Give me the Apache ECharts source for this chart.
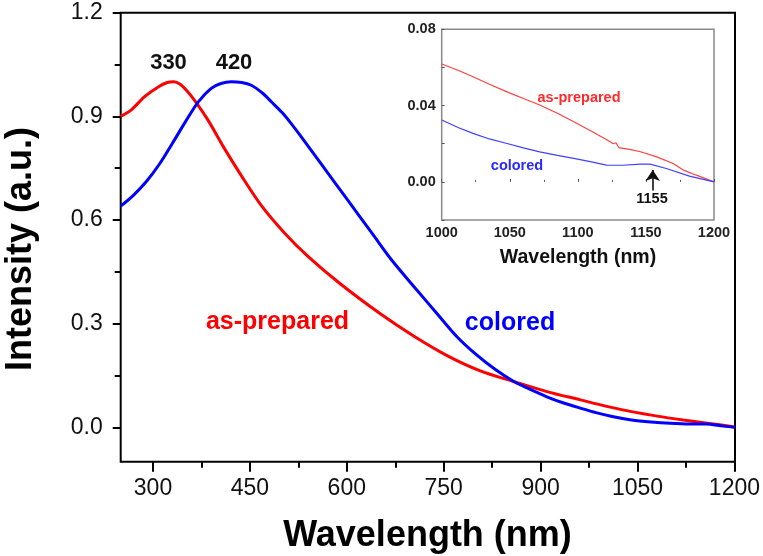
<!DOCTYPE html>
<html>
<head>
<meta charset="utf-8">
<script src="https://cdn.jsdelivr.net/npm/echarts@6/dist/echarts.min.js"></script>
<style>
  html, body { margin: 0; padding: 0; background: #fff; }
  #chart { width: 763px; height: 556px; }
</style>
</head>
<body>
<div id="chart"></div>
<script>
// main spectrum, wavelength (nm) -> intensity
const preparedX = [250, 266, 287, 308, 322, 332, 342, 352, 364, 385, 411, 437, 467, 504, 540, 589, 651, 703, 754, 806, 858, 909, 961, 1000, 1040, 1080, 1120, 1160, 1187, 1200]
const preparedY = [0.900, 0.918, 0.957, 0.985, 0.998, 1.000, 0.993, 0.975, 0.947, 0.889, 0.805, 0.727, 0.643, 0.561, 0.494, 0.416, 0.329, 0.264, 0.208, 0.163, 0.132, 0.103, 0.079, 0.061, 0.045, 0.032, 0.021, 0.011, 0.004, 0.000]
const coloredX = [250, 270, 290, 310, 330, 350, 370, 390, 405, 421, 437, 452, 470, 483, 500, 514, 527, 560, 600, 640, 669, 708, 740, 770, 800, 830, 858, 880, 909, 935, 961, 985, 1010, 1040, 1070, 1100, 1130, 1155, 1182, 1200]
const coloredY = [0.640, 0.672, 0.712, 0.762, 0.822, 0.884, 0.942, 0.981, 0.995, 1.000, 0.998, 0.990, 0.966, 0.942, 0.910, 0.878, 0.846, 0.762, 0.660, 0.558, 0.484, 0.397, 0.327, 0.262, 0.210, 0.166, 0.132, 0.112, 0.088, 0.070, 0.055, 0.042, 0.031, 0.021, 0.015, 0.011, 0.009, 0.0095, 0.003, 0.000]

// inset, 1000-1200 nm
const insetPreparedX = [1000, 1012, 1023, 1035, 1048, 1060, 1072, 1085, 1097, 1110, 1121, 1126, 1128, 1130, 1138, 1146, 1158, 1170, 1178, 1187, 1200]
const insetPreparedY = [0.0618, 0.0585, 0.0551, 0.0512, 0.0472, 0.0437, 0.0403, 0.0360, 0.0315, 0.0265, 0.0222, 0.0200, 0.0205, 0.0180, 0.0170, 0.0158, 0.0131, 0.0096, 0.0060, 0.0035, 0.0000]
const insetColoredX = [1000, 1012, 1023, 1035, 1048, 1060, 1072, 1085, 1097, 1110, 1121, 1133, 1146, 1153, 1165, 1182, 1200]
const insetColoredY = [0.0324, 0.0285, 0.0254, 0.0225, 0.0201, 0.0178, 0.0157, 0.0139, 0.0123, 0.0105, 0.0088, 0.0087, 0.0093, 0.0093, 0.0070, 0.0030, 0.0000]

const peakMarks = ['330', '420']
const arrowX = 1155

const FONT = '"Liberation Sans", Arial, sans-serif'
const RED = '#ff0000'
const BLUE = '#0000ff'

const zip = (xs, ys) => xs.map((x, i) => [x, ys[i]])

const chart = echarts.init(document.getElementById('chart'))

const hiddenAxis = (grid) => ({ gridIndex: grid, type: 'value', show: false, min: 0, max: 1 })

chart.setOption({
  animation: false,
  backgroundColor: '#fff',
  grid: [
    // data area of main plot
    { left: 120.7, top: 12.7, width: 614.3, height: 449, show: true, borderColor: '#000', borderWidth: 2, backgroundColor: 'transparent' },
    // x ticks (300..1200)
    { left: 153, top: 12.7, width: 582, height: 449 },
    // y ticks (0..1.2)
    { left: 120.7, top: 12.7, width: 614.3, height: 414.6 },
    // inset
    { left: 441.7, top: 29.3, width: 272.3, height: 190.7, show: true, borderColor: '#8a8a8a', borderWidth: 1.5, backgroundColor: '#fff' }
  ],
  xAxis: [
    { gridIndex: 0, type: 'value', min: 250, max: 1200, show: false },
    {
      gridIndex: 1, type: 'value', min: 300, max: 1200, interval: 150,
      axisLine: { show: false },
      axisTick: { show: true, inside: false, length: 10, lineStyle: { color: '#000', width: 2 } },
      minorTick: { show: true, splitNumber: 2, length: 6, lineStyle: { color: '#000', width: 2 } },
      splitLine: { show: false },
      axisLabel: { margin: 15, fontSize: 23, color: '#111', fontFamily: FONT, formatter: (v) => String(v) }
    },
    hiddenAxis(2),
    {
      gridIndex: 3, type: 'value', min: 1000, max: 1200, interval: 50,
      axisLine: { show: false },
      axisTick: { show: true, inside: true, length: 3, lineStyle: { color: '#555', width: 1 } },
      minorTick: { show: true, splitNumber: 2, length: 2, lineStyle: { color: '#555', width: 1 } },
      splitLine: { show: false },
      axisLabel: { margin: 5, fontSize: 14.5, fontWeight: 'bold', color: '#222', fontFamily: FONT, formatter: (v) => String(v) }
    }
  ],
  yAxis: [
    { gridIndex: 0, type: 'value', min: -0.1, max: 1.2, show: false },
    hiddenAxis(1),
    {
      gridIndex: 2, type: 'value', min: 0, max: 1.2, interval: 0.3,
      axisLine: { show: false },
      axisTick: { show: true, inside: false, length: 8, lineStyle: { color: '#000', width: 2 } },
      minorTick: { show: true, splitNumber: 2, length: 6, lineStyle: { color: '#000', width: 2 } },
      splitLine: { show: false },
      axisLabel: { margin: 18, fontSize: 23, color: '#111', fontFamily: FONT, formatter: (v) => v.toFixed(1) }
    },
    {
      gridIndex: 3, type: 'value', min: -0.02, max: 0.08, interval: 0.02,
      axisLine: { show: false },
      axisTick: { show: true, inside: true, length: 3, lineStyle: { color: '#555', width: 1 } },
      splitLine: { show: false },
      axisLabel: {
        margin: 6, fontSize: 14.5, fontWeight: 'bold', color: '#222', fontFamily: FONT,
        formatter: (v) => (Math.round(v * 100) % 4 === 0 ? v.toFixed(2) : '')
      }
    }
  ],
  series: [
    {
      name: 'as-prepared', type: 'line', xAxisIndex: 0, yAxisIndex: 0,
      data: zip(preparedX, preparedY), smooth: 0.3, showSymbol: false,
      lineStyle: { color: RED, width: 3 }, z: 3
    },
    {
      name: 'colored', type: 'line', xAxisIndex: 0, yAxisIndex: 0,
      data: zip(coloredX, coloredY), smooth: 0.3, showSymbol: false,
      lineStyle: { color: BLUE, width: 3 }, z: 3
    },
    {
      name: 'as-prepared (inset)', type: 'line', xAxisIndex: 3, yAxisIndex: 3,
      data: zip(insetPreparedX, insetPreparedY), showSymbol: false,
      lineStyle: { color: '#ff4040', width: 1.2 }, z: 6
    },
    {
      name: 'colored (inset)', type: 'line', xAxisIndex: 3, yAxisIndex: 3,
      data: zip(insetColoredX, insetColoredY), showSymbol: false,
      lineStyle: { color: '#4040ff', width: 1.2 }, z: 6,
      markLine: {
        silent: true,
        symbol: ['none', 'arrow'],
        symbolSize: 11,
        label: { show: false },
        lineStyle: { color: '#111', width: 1.6, type: 'solid' },
        data: [[{ coord: [arrowX, -0.0045] }, { coord: [arrowX, 0.0062] }]]
      }
    }
  ],
  graphic: [
    { type: 'text', x: 427.5, y: 536, z: 10, style: { text: 'Wavelength (nm)', align: 'center', verticalAlign: 'middle', font: 'bold 36px ' + FONT, fill: '#000' } },
    { type: 'text', x: 21, y: 249, rotation: Math.PI / 2, z: 10, style: { text: 'Intensity (a.u.)', align: 'center', verticalAlign: 'middle', font: 'bold 36px ' + FONT, fill: '#000' } },
    { type: 'text', x: 168.5, y: 63, z: 10, style: { text: peakMarks[0], align: 'center', verticalAlign: 'middle', font: 'bold 22px ' + FONT, fill: '#111' } },
    { type: 'text', x: 234, y: 63, z: 10, style: { text: peakMarks[1], align: 'center', verticalAlign: 'middle', font: 'bold 22px ' + FONT, fill: '#111' } },
    { type: 'text', x: 277.5, y: 322, z: 10, style: { text: 'as-prepared', align: 'center', verticalAlign: 'middle', font: 'bold 25px ' + FONT, fill: RED } },
    { type: 'text', x: 510, y: 323, z: 10, style: { text: 'colored', align: 'center', verticalAlign: 'middle', font: 'bold 25px ' + FONT, fill: BLUE } },
    // inset texts
    { type: 'text', x: 578, y: 258, z: 10, style: { text: 'Wavelength (nm)', align: 'center', verticalAlign: 'middle', font: 'bold 19.5px ' + FONT, fill: '#111' } },
    { type: 'text', x: 579, y: 98, z: 10, style: { text: 'as-prepared', align: 'center', verticalAlign: 'middle', font: 'bold 14.5px ' + FONT, fill: '#ff2a2a' } },
    { type: 'text', x: 517, y: 166, z: 10, style: { text: 'colored', align: 'center', verticalAlign: 'middle', font: 'bold 14.5px ' + FONT, fill: '#2a2aff' } },
    { type: 'text', x: 652, y: 199, z: 10, style: { text: String(arrowX), align: 'center', verticalAlign: 'middle', font: 'bold 14.5px ' + FONT, fill: '#111' } }
  ]
})
</script>
</body>
</html>
